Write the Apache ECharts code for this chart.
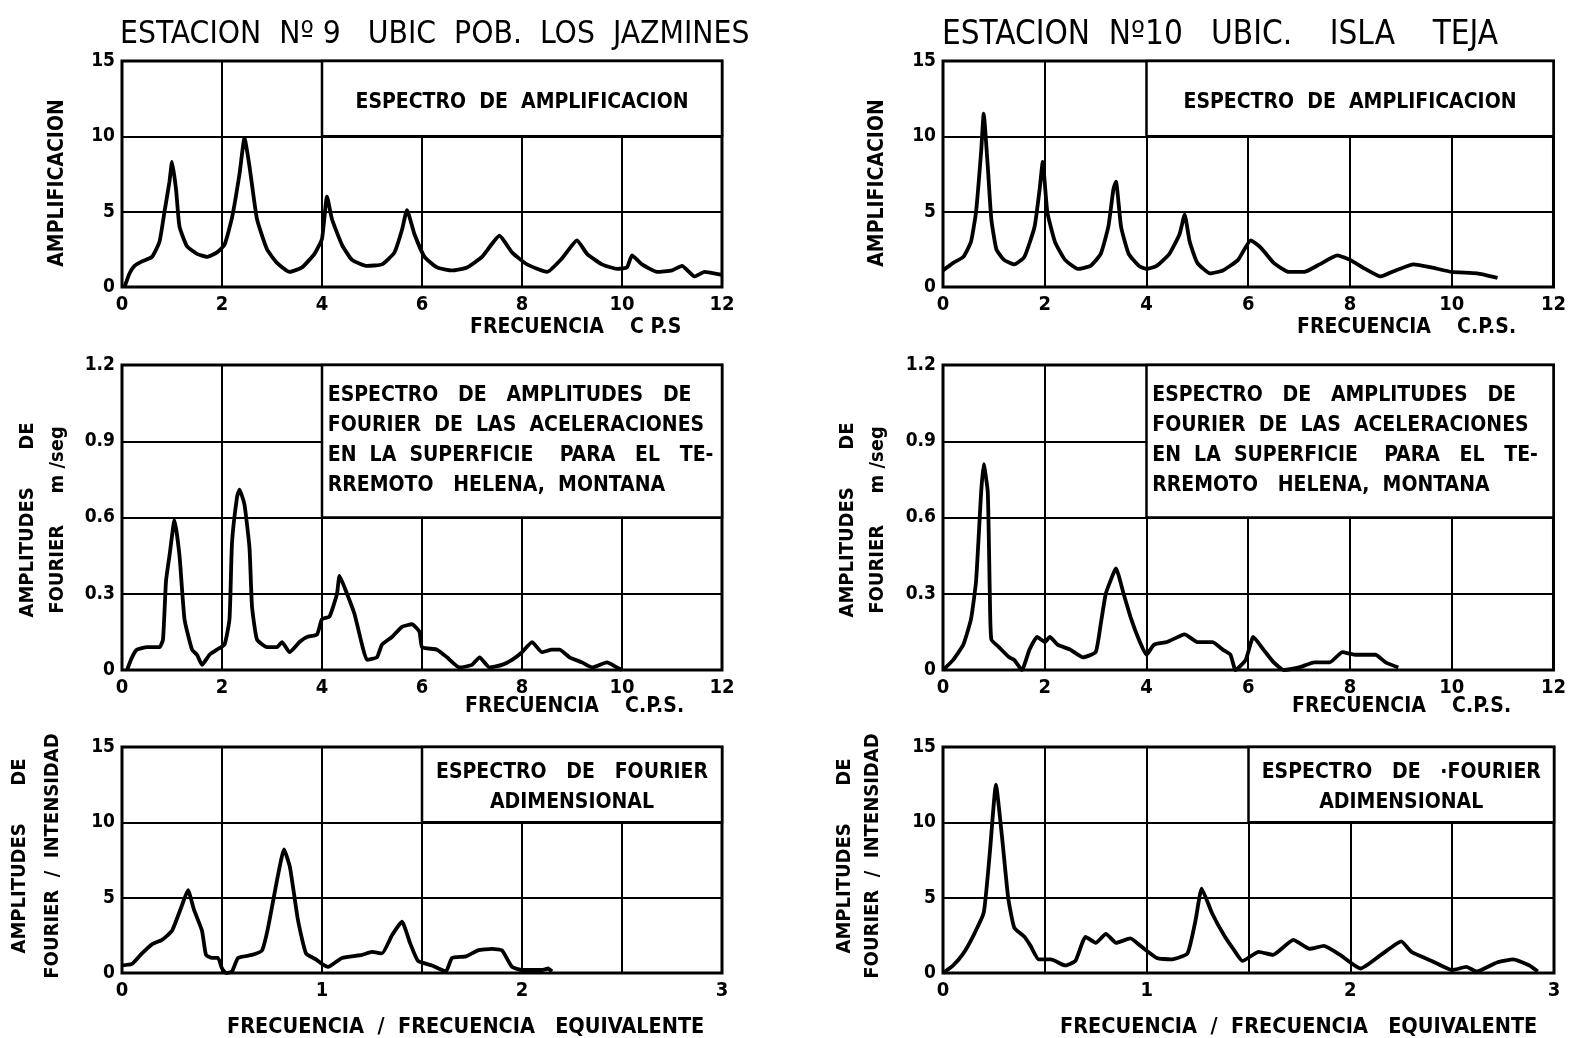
<!DOCTYPE html>
<html>
<head>
<meta charset="utf-8">
<title>Espectros estaciones 9 y 10</title>
<script src="https://cdn.jsdelivr.net/npm/echarts@6/dist/echarts.min.js"></script>
<style>
  html, body { margin: 0; background: #fff; }
  #chart { width: 1569px; height: 1038px; }
</style>
</head>
<body>
<div id="chart"></div>
<script>
// ---- datos: [frecuencia, valor] ----
// Estacion 9 - espectro de amplificacion
var st9Amp = [[0.05,0],[0.15,0.9],[0.25,1.4],[0.4,1.7],[0.6,2.0],[0.75,3.0],[0.85,5.0],[0.95,7.0],[1.0,8.3],[1.08,6.5],[1.15,4.0],[1.3,2.7],[1.5,2.2],[1.7,2.0],[1.9,2.3],[2.05,2.8],[2.2,4.6],[2.35,7.5],[2.45,9.9],[2.55,8.0],[2.7,4.5],[2.9,2.5],[3.1,1.6],[3.35,1.0],[3.6,1.3],[3.85,2.2],[4.0,3.2],[4.1,6.0],[4.2,4.5],[4.4,2.8],[4.6,1.8],[4.9,1.4],[5.2,1.5],[5.45,2.3],[5.6,3.8],[5.7,5.1],[5.85,3.5],[6.05,2.0],[6.3,1.3],[6.6,1.1],[6.9,1.3],[7.2,2.0],[7.55,3.4],[7.8,2.3],[8.1,1.5],[8.5,1.0],[8.8,1.9],[9.1,3.1],[9.3,2.2],[9.6,1.5],[9.9,1.2],[10.1,1.3],[10.2,2.1],[10.4,1.5],[10.7,1.0],[11.0,1.1],[11.2,1.4],[11.45,0.7],[11.65,1.0],[12.0,0.8]];
// Estacion 10 - espectro de amplificacion
var st10Amp = [[0,1.1],[0.2,1.6],[0.4,2.0],[0.55,3.0],[0.65,5.0],[0.75,9.0],[0.8,11.5],[0.88,8.0],[0.95,4.5],[1.05,2.5],[1.2,1.8],[1.4,1.5],[1.6,2.0],[1.8,4.0],[1.9,6.5],[1.96,8.3],[2.05,5.0],[2.2,3.0],[2.4,1.8],[2.65,1.2],[2.9,1.4],[3.1,2.2],[3.25,4.0],[3.35,6.5],[3.4,7.0],[3.5,4.0],[3.65,2.2],[3.85,1.4],[4.0,1.2],[4.2,1.4],[4.45,2.2],[4.65,3.5],[4.75,4.8],[4.85,3.0],[5.0,1.6],[5.25,0.9],[5.5,1.1],[5.8,1.8],[6.05,3.1],[6.25,2.6],[6.5,1.6],[6.8,1.0],[7.1,1.0],[7.4,1.5],[7.75,2.1],[8.0,1.8],[8.3,1.2],[8.6,0.7],[8.9,1.1],[9.25,1.5],[9.6,1.3],[10.0,1.0],[10.5,0.9],[10.9,0.6]];
// Estacion 9 - amplitudes de Fourier (m/seg)
var st9Four = [[0.1,0],[0.2,0.05],[0.3,0.08],[0.5,0.09],[0.75,0.09],[0.82,0.12],[0.88,0.35],[0.95,0.45],[1.05,0.59],[1.15,0.45],[1.25,0.2],[1.4,0.08],[1.5,0.06],[1.6,0.02],[1.75,0.06],[1.9,0.08],[2.05,0.1],[2.15,0.2],[2.2,0.5],[2.3,0.68],[2.35,0.71],[2.45,0.65],[2.55,0.48],[2.6,0.25],[2.7,0.12],[2.9,0.09],[3.1,0.09],[3.2,0.11],[3.35,0.07],[3.55,0.11],[3.7,0.13],[3.9,0.14],[4.0,0.2],[4.15,0.21],[4.3,0.3],[4.35,0.37],[4.5,0.3],[4.65,0.22],[4.8,0.1],[4.9,0.04],[5.1,0.05],[5.2,0.1],[5.4,0.13],[5.6,0.17],[5.8,0.18],[5.95,0.15],[6.0,0.09],[6.3,0.08],[6.5,0.05],[6.75,0.01],[7.0,0.02],[7.15,0.05],[7.35,0.01],[7.6,0.02],[7.8,0.04],[8.0,0.07],[8.2,0.11],[8.4,0.07],[8.6,0.08],[8.75,0.08],[8.95,0.05],[9.2,0.03],[9.4,0.01],[9.7,0.03],[9.9,0.01],[10.0,0]];
// Estacion 10 - amplitudes de Fourier (m/seg)
var st10Four = [[0,0],[0.2,0.04],[0.4,0.1],[0.55,0.2],[0.65,0.35],[0.75,0.7],[0.8,0.81],[0.88,0.7],[0.92,0.3],[0.95,0.12],[1.1,0.09],[1.3,0.05],[1.4,0.04],[1.55,0],[1.7,0.08],[1.85,0.13],[2.0,0.11],[2.1,0.13],[2.25,0.1],[2.5,0.08],[2.75,0.05],[3.0,0.07],[3.1,0.18],[3.2,0.3],[3.35,0.38],[3.4,0.4],[3.55,0.3],[3.7,0.2],[3.85,0.12],[4.0,0.06],[4.15,0.1],[4.4,0.11],[4.75,0.14],[5.0,0.11],[5.3,0.11],[5.5,0.08],[5.65,0.06],[5.75,0],[5.95,0.04],[6.1,0.13],[6.3,0.08],[6.5,0.03],[6.7,0],[7.0,0.01],[7.3,0.03],[7.6,0.03],[7.85,0.07],[8.1,0.06],[8.5,0.06],[8.7,0.03],[8.95,0.01]];
// Estacion 9 - espectro de Fourier adimensional
var st9Adim = [[0,0.5],[0.05,0.6],[0.1,1.3],[0.15,1.9],[0.2,2.2],[0.25,2.8],[0.3,4.5],[0.33,5.5],[0.36,4.2],[0.4,2.8],[0.42,1.2],[0.45,1.0],[0.48,1.0],[0.5,0.3],[0.52,0],[0.55,0.1],[0.58,1.0],[0.65,1.2],[0.7,1.5],[0.73,3.0],[0.78,6.5],[0.81,8.2],[0.84,7.0],[0.88,3.5],[0.92,1.3],[0.97,0.9],[1.0,0.6],[1.03,0.4],[1.1,1.0],[1.2,1.2],[1.25,1.4],[1.3,1.3],[1.35,2.5],[1.4,3.4],[1.44,2.0],[1.48,0.8],[1.55,0.5],[1.6,0.2],[1.62,0.1],[1.65,1.0],[1.72,1.1],[1.78,1.5],[1.85,1.6],[1.9,1.5],[1.95,0.4],[2.0,0.2],[2.1,0.2],[2.13,0.3],[2.15,0.1]];
// Estacion 10 - espectro de Fourier adimensional
var st10Adim = [[0,0],[0.05,0.5],[0.1,1.3],[0.15,2.5],[0.2,4.0],[0.23,8.0],[0.26,12.5],[0.29,9.0],[0.32,5.0],[0.35,3.0],[0.4,2.4],[0.43,1.8],[0.47,0.9],[0.53,0.9],[0.6,0.5],[0.65,0.8],[0.7,2.4],[0.75,2.0],[0.8,2.6],[0.85,2.0],[0.92,2.3],[0.97,1.8],[1.05,1.0],[1.12,0.9],[1.2,1.3],[1.24,3.5],[1.27,5.6],[1.32,4.0],[1.38,2.5],[1.43,1.5],[1.47,0.8],[1.55,1.4],[1.62,1.2],[1.72,2.2],[1.8,1.6],[1.87,1.8],[1.95,1.2],[2.05,0.3],[2.15,1.2],[2.25,2.1],[2.3,1.4],[2.4,0.8],[2.5,0.2],[2.57,0.4],[2.62,0.1],[2.72,0.7],[2.8,0.9],[2.88,0.5],[2.92,0.1]];

// textos
var titles = ["ESTACION  Nº 9   UBIC  POB.  LOS  JAZMINES", "ESTACION  Nº10   UBIC.    ISLA    TEJA"];
var boxAmp = "ESPECTRO  DE  AMPLIFICACION";
var boxFour = "ESPECTRO   DE   AMPLITUDES   DE\nFOURIER  DE  LAS  ACELERACIONES\nEN  LA  SUPERFICIE    PARA   EL   TE-\nRREMOTO   HELENA,  MONTANA";
var boxAdim9 = "ESPECTRO   DE   FOURIER\nADIMENSIONAL";
var boxAdim10 = "ESPECTRO   DE   ·FOURIER\nADIMENSIONAL";

var FONT = "'DejaVu Sans Condensed', 'Liberation Sans Narrow', 'DejaVu Sans', sans-serif";

var chart = echarts.init(document.getElementById("chart"));

// paneles: columna izquierda (est. 9) y derecha (est. 10)
var cols = [{ left: 122, width: 600 }, { left: 943, width: 611 }];
var rows = [{ top: 61, height: 226 }, { top: 365, height: 305 }, { top: 747, height: 226 }];

var panels = [
  { c: 0, r: 0, data: st9Amp, xMax: 12, xInt: 2, yMax: 15, yInt: 5, box: [4, 10, 12, 15], text: boxAmp },
  { c: 1, r: 0, data: st10Amp, xMax: 12, xInt: 2, yMax: 15, yInt: 5, box: [4, 10, 12, 15], text: boxAmp },
  { c: 0, r: 1, data: st9Four, xMax: 12, xInt: 2, yMax: 1.2, yInt: 0.3, box: [4, 0.6, 12, 1.2], text: boxFour },
  { c: 1, r: 1, data: st10Four, xMax: 12, xInt: 2, yMax: 1.2, yInt: 0.3, box: [4, 0.6, 12, 1.2], text: boxFour },
  { c: 0, r: 2, data: st9Adim, xMax: 3, xInt: 0.5, yMax: 15, yInt: 5, box: [1.5, 10, 3, 15], text: boxAdim9 },
  { c: 1, r: 2, data: st10Adim, xMax: 3, xInt: 0.5, yMax: 15, yInt: 5, box: [1.5, 10, 3, 15], text: boxAdim10 }
];

var grids = [], xAxes = [], yAxes = [], series = [];

panels.forEach(function (p, i) {
  grids.push({
    left: cols[p.c].left, width: cols[p.c].width,
    top: rows[p.r].top, height: rows[p.r].height,
    show: true, borderColor: "#000", borderWidth: 3, backgroundColor: "transparent"
  });
  xAxes.push({
    gridIndex: i, type: "value", min: 0, max: p.xMax, interval: p.xInt,
    axisLine: { show: false }, axisTick: { show: false },
    axisLabel: {
      color: "#000", fontFamily: FONT, fontWeight: "bold", fontSize: 20, margin: 8,
      formatter: function (v) { return p.xMax === 3 && v % 1 !== 0 ? "" : String(v); }
    },
    splitLine: { lineStyle: { color: "#000", width: 2 } }
  });
  yAxes.push({
    gridIndex: i, type: "value", min: 0, max: p.yMax, interval: p.yInt,
    axisLine: { show: false }, axisTick: { show: false },
    axisLabel: { color: "#000", fontFamily: FONT, fontWeight: "bold", fontSize: 19, margin: 7 },
    splitLine: { lineStyle: { color: "#000", width: 2 } }
  });

  var lbl;
  if (p.r === 1) {
    lbl = { position: "insideTopLeft", distance: 0, padding: [17, 0, 0, 7], align: "left", lineHeight: 30, fontSize: 21 };
  } else if (p.r === 0) {
    lbl = { position: "inside", offset: [0, 4], fontSize: 21 };
  } else {
    lbl = { position: "insideTop", distance: 0, padding: [12, 0, 0, 0], align: "center", lineHeight: 30, fontSize: 21 };
  }
  lbl.show = true;
  lbl.color = "#000";
  lbl.fontFamily = FONT;
  lbl.fontWeight = "bold";
  lbl.formatter = p.text;

  series.push({
    type: "line", xAxisIndex: i, yAxisIndex: i,
    data: p.data, showSymbol: false, smooth: 0.15,
    lineStyle: { color: "#000", width: 3.8 },
    silent: true, animation: false,
    markArea: {
      silent: true,
      itemStyle: { color: "#fff", borderColor: "#000", borderWidth: 2.5 },
      label: lbl,
      data: [[{ coord: [p.box[0], p.box[1]] }, { coord: [p.box[2], p.box[3]] }]]
    }
  });
});

function txt(x, y, s, size, weight, rot, align) {
  return {
    type: "text", x: x, y: y, rotation: rot || 0, silent: true,
    style: {
      text: s, fill: "#000", font: (weight || "bold") + " " + size + "px " + FONT,
      align: align || "left", verticalAlign: "middle"
    }
  };
}

var R = Math.PI / 2;
var graphics = [
  txt(120, 35, titles[0], 31.5, "normal"),
  txt(942, 35, titles[1], 33, "normal"),
  // nombres de ejes x
  txt(470, 328, "FRECUENCIA    C P.S", 21),
  txt(1297, 328, "FRECUENCIA    C.P.S.", 21),
  txt(465, 707, "FRECUENCIA    C.P.S.", 21),
  txt(1292, 707, "FRECUENCIA    C.P.S.", 21),
  txt(227, 1027, "FRECUENCIA  /  FRECUENCIA   EQUIVALENTE", 21.5),
  txt(1060, 1027, "FRECUENCIA  /  FRECUENCIA   EQUIVALENTE", 21.5),
  // nombres de ejes y
  txt(58, 183, "AMPLIFICACION", 21, "bold", R, "center"),
  txt(878, 183, "AMPLIFICACION", 21, "bold", R, "center"),
  txt(28, 520, "AMPLITUDES      DE", 20, "bold", R, "center"),
  txt(58, 520, "FOURIER     m /seg", 20, "bold", R, "center"),
  txt(848, 520, "AMPLITUDES      DE", 20, "bold", R, "center"),
  txt(878, 520, "FOURIER     m /seg", 20, "bold", R, "center"),
  txt(20, 856, "AMPLITUDES      DE", 20, "bold", R, "center"),
  txt(53, 856, "FOURIER  /  INTENSIDAD", 20, "bold", R, "center"),
  txt(845, 856, "AMPLITUDES      DE", 20, "bold", R, "center"),
  txt(873, 856, "FOURIER  /  INTENSIDAD", 20, "bold", R, "center")
];

chart.setOption({
  backgroundColor: "#fff",
  animation: false,
  grid: grids,
  xAxis: xAxes,
  yAxis: yAxes,
  series: series,
  graphic: graphics
});
</script>
</body>
</html>
